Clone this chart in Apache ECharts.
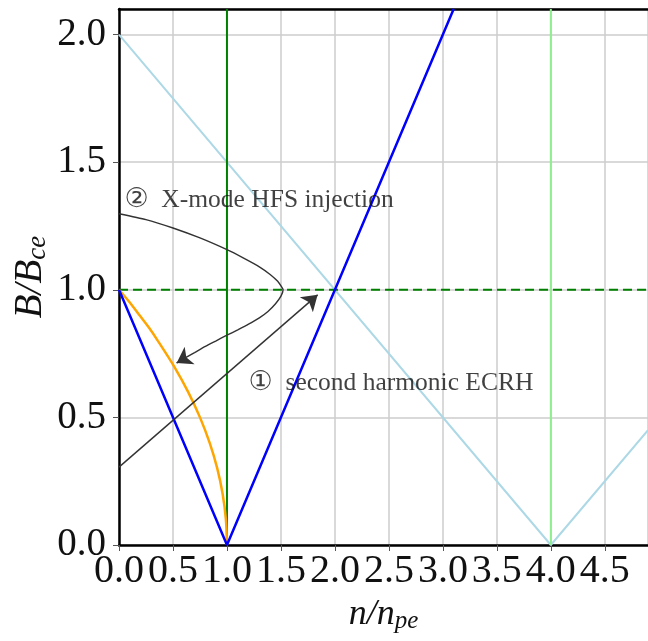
<!DOCTYPE html>
<html>
<head>
<meta charset="utf-8">
<script src="https://cdn.jsdelivr.net/npm/echarts@6/dist/echarts.min.js"></script>
<style>html,body{margin:0;padding:0;background:#fff;}#c{width:648px;height:641px;}</style>
</head>
<body>
<div id="c"></div>
<script>
// ---- data ----
const xTicks = [0, 0.5, 1, 1.5, 2, 2.5, 3, 3.5, 4, 4.5];
const yTicks = [0, 0.5, 1, 1.5, 2];
const blueV = [[0, 1], [1, 0], [3.1, 2.1]];
const lightBlueV = [[0, 2], [4, 0], [4.9, 0.45]];
const greenVert = [[1, 0], [1, 2.1]];
const lightGreenVert = [[4, 0], [4, 2.1]];
const dashedH = [[0, 1], [4.9, 1]];
const orangeCurve = [[0, 1], [0.1, 0.95], [0.19, 0.9], [0.28, 0.85], [0.36, 0.8], [0.51, 0.7], [0.64, 0.6], [0.75, 0.5], [0.84, 0.4], [0.91, 0.3], [0.96, 0.2], [0.99, 0.1], [1, 0]];
const hfsCurve = [[0, 1.298], [0.25, 1.275], [0.5, 1.242], [0.75, 1.203], [1.0, 1.157], [1.15, 1.125], [1.3, 1.09], [1.4, 1.06], [1.47, 1.033], [1.505, 1.012], [1.52, 1.0], [1.5, 0.975], [1.45, 0.945], [1.38, 0.915], [1.3, 0.89], [1.2, 0.865], [1.1, 0.843], [1.0, 0.822], [0.9, 0.8], [0.8, 0.778], [0.7, 0.754], [0.6, 0.73], [0.534, 0.713]];
const hfsArrow = [[0.62, 0.734], [0.534, 0.713]];
const ecrhLine = [[0, 0.305], [1.84, 0.98]];
const notes = [
  { mark: '②', text: 'X-mode HFS injection', pos: [0.05, 1.35] },
  { mark: '①', text: 'second harmonic ECRH', pos: [1.2, 0.635] }
];

const serif = 'Liberation Serif, DejaVu Serif, serif';
const chart = echarts.init(document.getElementById('c'), null, { renderer: 'canvas' });

function lineSeries(data, color, width, type, z, smooth) {
  return {
    type: 'line', data: data, showSymbol: false, symbol: 'none', silent: true,
    smooth: smooth || false,
    lineStyle: { color: color, width: width, type: type || 'solid' }, z: z || 2
  };
}

function nameRich(size) {
  return {
    i: { fontFamily: serif, fontStyle: 'italic', fontSize: size, color: '#111' },
    s: { fontFamily: serif, fontStyle: 'italic', fontSize: Math.round(size * 0.7), color: '#111', verticalAlign: 'bottom', padding: [14, 0, 0, 0] }
  };
}

const option = {
  animation: false,
  backgroundColor: '#fff',
  grid: { left: 119, right: 0, top: 9, bottom: 96, containLabel: false, outerBoundsMode: 'none' },
  xAxis: [{
    type: 'value', min: 0, max: 4.9, interval: 0.5, position: 'bottom',
    name: '{i|n/n}{s|pe}', nameLocation: 'middle', nameGap: 50, nameMoveOverlap: false,
    nameTextStyle: { rich: nameRich(36) },
    axisLine: { show: true, onZero: false, lineStyle: { color: '#000', width: 2.5 } },
    axisTick: { show: true, inside: false, length: 6, lineStyle: { color: '#555', width: 1 } },
    axisLabel: {
      fontFamily: serif, fontSize: 40, color: '#111', margin: 6, showMaxLabel: false, hideOverlap: false,
      formatter: v => xTicks.some(t => Math.abs(t - v) < 1e-9) ? v.toFixed(1) : ''
    },
    splitLine: { show: true, lineStyle: { color: '#cccccc', width: 1.5 } }
  }, {
    type: 'value', min: 0, max: 4.9, position: 'top',
    axisLine: { show: true, onZero: false, lineStyle: { color: '#000', width: 2.5 } },
    axisTick: { show: false }, axisLabel: { show: false }, splitLine: { show: false }
  }],
  yAxis: {
    type: 'value', min: 0, max: 2.1, interval: 0.5,
    name: '{i|B/B}{s|ce}', nameLocation: 'middle', nameRotate: 90, nameGap: 68, nameMoveOverlap: false,
    nameTextStyle: { rich: nameRich(39) },
    axisLine: { show: true, onZero: false, lineStyle: { color: '#000', width: 2.5 } },
    axisTick: { show: true, inside: false, length: 6, lineStyle: { color: '#555', width: 1 } },
    axisLabel: {
      fontFamily: serif, fontSize: 39, color: '#111', margin: 13, showMaxLabel: false,
      formatter: v => yTicks.some(t => Math.abs(t - v) < 1e-9) ? v.toFixed(1) : ''
    },
    splitLine: { show: true, lineStyle: { color: '#cccccc', width: 1.5 } }
  },
  series: [
    lineSeries(lightBlueV, '#add8e6', 2, 'solid', 2),
    lineSeries(greenVert, '#008000', 2, 'solid', 3),
    lineSeries(lightGreenVert, '#90ee90', 2, 'solid', 3),
    lineSeries(dashedH, '#008000', 2, [9, 5], 3),
    lineSeries(orangeCurve, '#ffa500', 2.5, 'solid', 4, 0.3),
    lineSeries(blueV, '#0000ff', 2.5, 'solid', 5),
    lineSeries(hfsCurve, '#333333', 1.4, 'solid', 6, 0.2),
    {
      type: 'lines', coordinateSystem: 'cartesian2d', silent: true, z: 6,
      symbol: ['none', 'arrow'], symbolSize: [11, 15],
      lineStyle: { color: '#333333', width: 1.4, opacity: 1 },
      data: [{ coords: hfsArrow }, { coords: ecrhLine }]
    },
    {
      type: 'scatter', symbolSize: 0, silent: true, z: 7,
      data: notes.map(n => ({ value: n.pos, name: n.text, mark: n.mark })),
      label: {
        show: true, position: 'right', distance: 0,
        formatter: p => '{c|' + p.data.mark + '}  {t|' + p.name + '}',
        fontFamily: serif, fontSize: 25.5, color: '#111',
        rich: {
          c: { fontFamily: 'DejaVu Sans, sans-serif', fontSize: 27, color: '#111' },
          t: { fontFamily: serif, fontSize: 25.5, color: '#111' }
        }
      }
    }
  ]
};
chart.setOption(option);
</script>
</body>
</html>
